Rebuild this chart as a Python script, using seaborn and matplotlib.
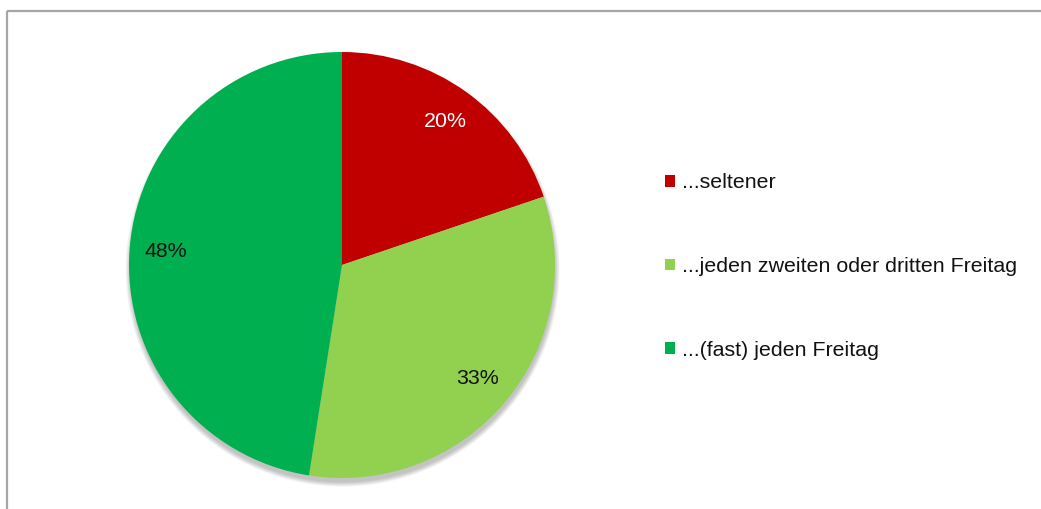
import matplotlib
matplotlib.use("Agg")
import matplotlib.pyplot as plt
import seaborn as sns
import numpy as np
from matplotlib.patches import Patch, Circle
from matplotlib.lines import Line2D

# Data
categories = ["...seltener", "...jeden zweiten oder dritten Freitag", "...(fast) jeden Freitag"]
values = [20, 33, 48]
pct_labels = ["20%", "33%", "48%"]
colors = ["#C00000", "#92D050", "#00B050"]
label_colors = ["white", "#111111", "#111111"]

sns.set_theme(style="white")
plt.rcParams['font.family'] = ['Liberation Sans', 'DejaVu Sans']

W, H = 1041, 509
fig = plt.figure(figsize=(W / 100, H / 100), dpi=100)
fig.patch.set_facecolor("white")

# frame lines (top and left)
fig.add_artist(Line2D([7 / W, 7 / W], [0, 1 - 11 / H], transform=fig.transFigure,
                      color="#A6A6A6", lw=1.6, solid_capstyle="butt"))
fig.add_artist(Line2D([7 / W, 1], [1 - 11 / H, 1 - 11 / H], transform=fig.transFigure,
                      color="#A6A6A6", lw=1.6, solid_capstyle="butt"))

cx, cy, r = 342, 265, 213
ax = fig.add_axes([(cx - r * 1.05) / W, (H - cy - r * 1.05) / H, 2.1 * r / W, 2.1 * r / H])
ax.axis("off")

# soft shadow below the pie
for k in range(8):
    ax.add_patch(Circle((0.003, -0.022), 0.995 + 0.003 * (8 - k), color="black",
                        alpha=0.03, lw=0, zorder=0))

wedges, _ = ax.pie(values, colors=colors, startangle=90, counterclock=False,
                   radius=1.0, wedgeprops=dict(linewidth=0, zorder=2))
total = sum(values)
cum = 0
for v, lab, lc in zip(values, pct_labels, label_colors):
    mid = 90 - 360 * (cum + v / 2) / total
    cum += v
    d = 0.83
    ax.text(d * np.cos(np.radians(mid)), d * np.sin(np.radians(mid)), lab,
            ha="center", va="center", fontsize=15.4, color=lc, zorder=5)
ax.set_xlim(-1.05, 1.05)
ax.set_ylim(-1.05, 1.05)

handles = [Patch(facecolor=c, edgecolor="none") for c in colors]
fig.legend(handles, categories, loc="upper left",
           bbox_to_anchor=(665 / W, 1 - 173.5 / H), frameon=False,
           fontsize=15.4, labelcolor="#111111", handlelength=0.48, handleheight=0.48,
           handletextpad=0.33, labelspacing=3.02, borderpad=0, borderaxespad=0)

fig.savefig("out.png", dpi=100, facecolor="white")
